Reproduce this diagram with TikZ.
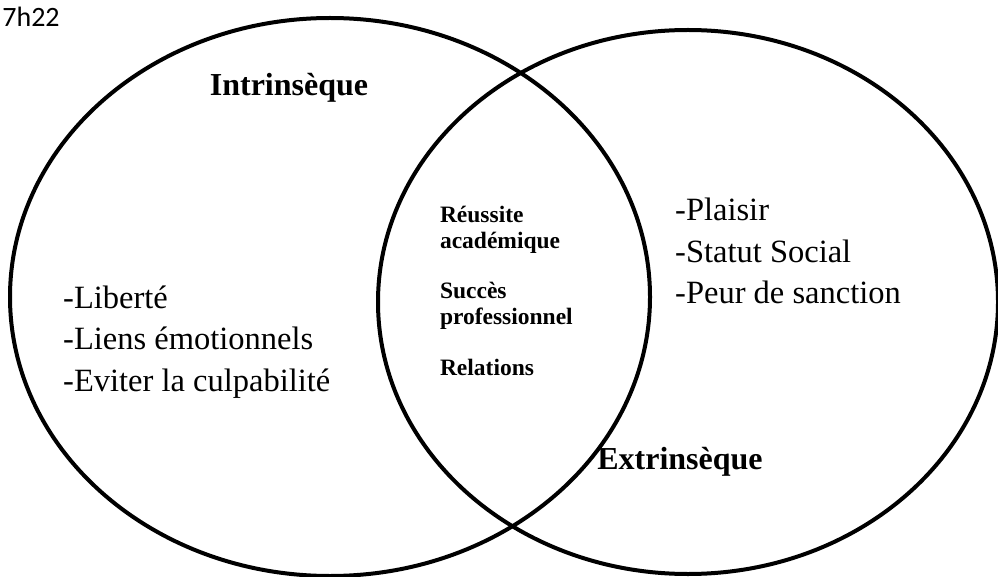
\documentclass[tikz,border=0pt]{standalone}
\usepackage{fontspec}
\setmainfont{Liberation Serif}
\newfontfamily\clockfont{Carlito}

\begin{document}
\begin{tikzpicture}
 [x=1pt, y=-1pt,
  set/.style={line width=4pt},
  big label/.style={inner sep=0pt, font=\fontsize{32}{38}\selectfont\bfseries},
  list node/.style={align=left, anchor=west, inner sep=0pt, font=\fontsize{32.5}{41.5}\selectfont},
  mid node/.style={node distance=76pt, text width=150pt, align=left, inner sep=0pt, font=\fontsize{23.5}{26}\selectfont\bfseries}]

 \useasboundingbox (0,0) rectangle (998,577);

 \draw[set] (330,297) ellipse [x radius=320, y radius=279];
 \draw[set] (688,302) ellipse [x radius=310, y radius=272];

 \node[inner sep=0pt, font=\clockfont\fontsize{28}{32}\selectfont] (time) at (31,17) {7h22};

 \node[big label] (intr) at (289,88) {Intrinsèque};
 \node[big label] (extr) at (680,462) {Extrinsèque};

 \node[list node] (left list) at (63,342) {-Liberté\\-Liens émotionnels\\-Eviter la culpabilité};
 \node[list node] (right list) at (675,251) {-Plaisir\\-Statut Social\\-Peur de sanction};

 \node[mid node] (reussite) at (515,230) {Réussite\\académique};
 \node[mid node] (succes) [below of=reussite] {Succès\\professionnel};
 \node[mid node] (relations) [below of=succes, node distance=61pt] {Relations};

\end{tikzpicture}
\end{document}
